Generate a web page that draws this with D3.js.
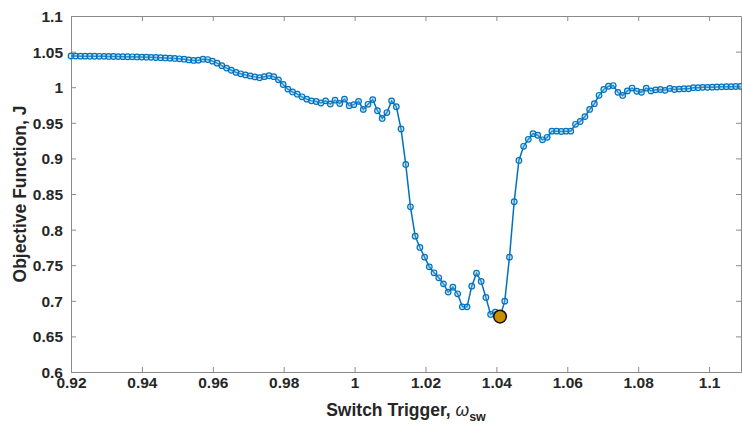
<!DOCTYPE html>
<html>
<head>
<meta charset="UTF-8">
<title>Objective Function vs Switch Trigger</title>
<style>
  body { margin: 0; background: #fff; }
  svg { display: block; }
  .tick text { font-family: "Liberation Sans", Arial, sans-serif; font-weight: bold; font-size: 15.5px; fill: #262626; }
  .axis-title { font-family: "Liberation Sans", Arial, sans-serif; font-weight: bold; font-size: 17.5px; fill: #262626; }
</style>
</head>
<body>
<script src="https://d3js.org/d3.v7.min.js"></script>
<script>
// switch trigger values (x)
var triggers = [
  0.92000, 0.92133, 0.92266, 0.92399, 0.92532, 0.92665, 0.92798, 0.92931, 0.93064, 0.93197,
  0.93330, 0.93463, 0.93596, 0.93729, 0.93862, 0.93995, 0.94128, 0.94261, 0.94394, 0.94527,
  0.94660, 0.94793, 0.94926, 0.95059, 0.95192, 0.95325, 0.95458, 0.95591, 0.95724, 0.95857,
  0.95990, 0.96123, 0.96256, 0.96389, 0.96522, 0.96655, 0.96788, 0.96921, 0.97054, 0.97187,
  0.97320, 0.97453, 0.97586, 0.97719, 0.97852, 0.97985, 0.98118, 0.98251, 0.98384, 0.98517,
  0.98650, 0.98783, 0.98916, 0.99049, 0.99182, 0.99315, 0.99448, 0.99581, 0.99714, 0.99847,
  0.99980, 1.00113, 1.00246, 1.00379, 1.00512, 1.00645, 1.00778, 1.00911, 1.01044, 1.01177,
  1.01310, 1.01443, 1.01576, 1.01709, 1.01842, 1.01975, 1.02108, 1.02241, 1.02374, 1.02507,
  1.02640, 1.02773, 1.02906, 1.03039, 1.03172, 1.03305, 1.03438, 1.03571, 1.03704, 1.03837,
  1.03970, 1.04103, 1.04236, 1.04369, 1.04502, 1.04635, 1.04768, 1.04901, 1.05034, 1.05167,
  1.05300, 1.05433, 1.05566, 1.05699, 1.05832, 1.05965, 1.06098, 1.06231, 1.06364, 1.06497,
  1.06630, 1.06763, 1.06896, 1.07029, 1.07162, 1.07295, 1.07428, 1.07561, 1.07694, 1.07827,
  1.07960, 1.08093, 1.08226, 1.08359, 1.08492, 1.08625, 1.08758, 1.08891, 1.09024, 1.09157,
  1.09290, 1.09423, 1.09556, 1.09689, 1.09822, 1.09955, 1.10088, 1.10221, 1.10354, 1.10487,
  1.10620, 1.10753, 1.10886
];

// objective function values (y)
var objective = [
  1.0438, 1.0437, 1.0436, 1.0436, 1.0435, 1.0435, 1.0434, 1.0433, 1.0432, 1.0431,
  1.0430, 1.0429, 1.0428, 1.0427, 1.0425, 1.0423, 1.0421, 1.0419, 1.0417, 1.0414,
  1.0411, 1.0408, 1.0404, 1.0399, 1.0393, 1.0383, 1.0376, 1.0380, 1.0393, 1.0388,
  1.0366, 1.0338, 1.0303, 1.0268, 1.0238, 1.0208, 1.0188, 1.0173, 1.0158, 1.0145,
  1.0133, 1.0148, 1.0161, 1.0148, 1.0103, 1.0038, 0.9973, 0.9933, 0.9902, 0.9865,
  0.9832, 0.9808, 0.9799, 0.9778, 0.9808, 0.9764, 0.9818, 0.9771, 0.9832, 0.9740,
  0.9755, 0.9801, 0.9688, 0.9760, 0.9826, 0.9670, 0.9561, 0.9644, 0.9808, 0.9727,
  0.9413, 0.8915, 0.8320, 0.7908, 0.7749, 0.7613, 0.7477, 0.7393, 0.7323, 0.7238,
  0.7122, 0.7192, 0.7098, 0.6915, 0.6915, 0.7206, 0.7388, 0.7272, 0.7047, 0.6808,
  0.6841, 0.6778, 0.6995, 0.7613, 0.8391, 0.8971, 0.9170, 0.9268, 0.9347, 0.9325,
  0.9261, 0.9296, 0.9383, 0.9383, 0.9378, 0.9383, 0.9383, 0.9479, 0.9518, 0.9587,
  0.9688, 0.9768, 0.9886, 0.9968, 1.0013, 1.0023, 0.9928, 0.9884, 0.9948, 0.9988,
  0.9943, 0.9928, 0.9987, 0.9948, 0.9963, 0.9968, 0.9956, 0.9983, 0.9968, 0.9973,
  0.9978, 0.9978, 0.9993, 0.9993, 0.9998, 0.9998, 1.0001, 1.0003, 1.0005, 1.0008,
  1.0008, 1.0010, 1.0011
];

// best point
var bestTrigger = [1.04103];
var bestObjective = [0.6778];

var xTicks = [0.92, 0.94, 0.96, 0.98, 1.00, 1.02, 1.04, 1.06, 1.08, 1.10];
var xTickLabels = ["0.92", "0.94", "0.96", "0.98", "1", "1.02", "1.04", "1.06", "1.08", "1.1"];
var yTicks = [0.6, 0.65, 0.7, 0.75, 0.8, 0.85, 0.9, 0.95, 1.0, 1.05, 1.1];
var yTickLabels = ["0.6", "0.65", "0.7", "0.75", "0.8", "0.85", "0.9", "0.95", "1", "1.05", "1.1"];

var W = 742, H = 428;
var plotL = 71, plotR = 741, plotT = 16, plotB = 372;

var svg = d3.select("body").append("svg")
    .attr("width", W)
    .attr("height", H);

var x = d3.scaleLinear().domain([0.92, 1.109]).range([plotL, plotR]);
var y = d3.scaleLinear().domain([0.6, 1.1]).range([plotB, plotT]);

var axisColor = "#8a8a8a";

// axes, ticks pointing inward
var xAxis = d3.axisBottom(x).tickValues(xTicks)
    .tickFormat(function(d, i) { return xTickLabels[i]; })
    .tickSizeInner(-5).tickSizeOuter(0).tickPadding(7);
var yAxis = d3.axisLeft(y).tickValues(yTicks)
    .tickFormat(function(d, i) { return yTickLabels[i]; })
    .tickSizeInner(-5).tickSizeOuter(0).tickPadding(8);

var gx = svg.append("g").attr("transform", "translate(0," + plotB + ")").call(xAxis);
var gy = svg.append("g").attr("transform", "translate(" + plotL + ",0)").call(yAxis);

// top and right box with ticks
var gxt = svg.append("g").attr("transform", "translate(0," + plotT + ")")
    .call(d3.axisTop(x).tickValues(xTicks).tickFormat("").tickSizeInner(-5).tickSizeOuter(0));
var gyr = svg.append("g").attr("transform", "translate(" + plotR + ",0)")
    .call(d3.axisRight(y).tickValues(yTicks).tickFormat("").tickSizeInner(-5).tickSizeOuter(0));

[gx, gy, gxt, gyr].forEach(function(g) {
    g.select(".domain").attr("stroke", axisColor);
    g.selectAll(".tick line").attr("stroke", axisColor);
});
gx.selectAll(".tick text").attr("dy", "0.6em");
gy.selectAll(".tick text").attr("dy", "0.35em");

// data
var pts = triggers.map(function(t, i) { return [t, objective[i]]; });

var line = d3.line()
    .x(function(d) { return x(d[0]); })
    .y(function(d) { return y(d[1]); });

svg.append("path")
    .attr("d", line(pts))
    .attr("fill", "none")
    .attr("stroke", "#0072BD")
    .attr("stroke-width", 1.5);

svg.append("g").selectAll("circle")
    .data(pts)
    .enter().append("circle")
    .attr("cx", function(d) { return x(d[0]); })
    .attr("cy", function(d) { return y(d[1]); })
    .attr("r", 2.8)
    .attr("fill", "rgba(120,190,235,0.35)")
    .attr("stroke", "#0072BD")
    .attr("stroke-width", 1.2);

svg.append("g").selectAll("circle")
    .data(bestTrigger)
    .enter().append("circle")
    .attr("cx", function(d) { return x(d); })
    .attr("cy", function(d, i) { return y(bestObjective[i]); })
    .attr("r", 6.3)
    .attr("fill", "#CC8F00")
    .attr("stroke", "#111")
    .attr("stroke-width", 1.5);

// axis titles
var xt = svg.append("text")
    .attr("class", "axis-title")
    .attr("x", (plotL + plotR) / 2)
    .attr("y", 416)
    .attr("text-anchor", "middle");
xt.append("tspan").text("Switch Trigger, ");
xt.append("tspan").attr("font-style", "italic").attr("font-weight", "normal").text("ω");
xt.append("tspan").attr("font-size", "12.5px").attr("dy", 5).text("sw");

svg.append("text")
    .attr("class", "axis-title")
    .attr("transform", "translate(26," + ((plotT + plotB) / 2) + ") rotate(-90)")
    .attr("text-anchor", "middle")
    .text("Objective Function, J");
</script>
</body>
</html>
